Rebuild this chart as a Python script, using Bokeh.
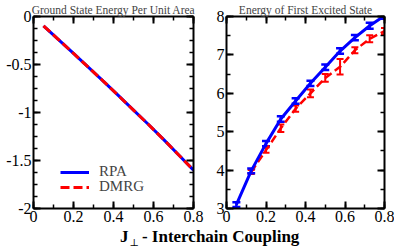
from bokeh.plotting import figure
from bokeh.models import (Range1d, LinearAxis, FixedTicker, Whisker, ColumnDataSource,
                          Legend, LegendItem, TeeHead, Div)
from bokeh.layouts import column, row
from bokeh.embed import file_html
from bokeh.resources import INLINE

# ---------------- data ----------------
jperp = [0.05, 0.125, 0.2, 0.275, 0.35, 0.425, 0.5, 0.575, 0.65, 0.725, 0.8]
ground_rpa = [-0.097, -0.24, -0.385, -0.53, -0.675, -0.825, -0.975, -1.125, -1.28, -1.44, -1.60]
ground_dmrg = [-0.097, -0.24, -0.385, -0.53, -0.675, -0.825, -0.975, -1.125, -1.28, -1.44, -1.60]

excited_rpa = [3.1, 3.98, 4.69, 5.33, 5.8, 6.26, 6.68, 7.1, 7.45, 7.76, 8.02]
excited_rpa_err = [0.06, 0.06, 0.07, 0.07, 0.07, 0.07, 0.07, 0.07, 0.07, 0.08, 0.08]

jperp_dmrg = [0.125, 0.2, 0.275, 0.35, 0.425, 0.5, 0.575, 0.65, 0.725, 0.8]
excited_dmrg = [3.95, 4.52, 5.09, 5.6, 6.0, 6.4, 6.69, 7.12, 7.42, 7.62]
excited_dmrg_err = [0.05, 0.07, 0.1, 0.08, 0.1, 0.1, 0.2, 0.08, 0.09, 0.08]

x_ticks = [0, 0.2, 0.4, 0.6, 0.8]
x_tick_labels = ["0", "0.2", "0.4", "0.6", "0.8"]
left_y_ticks = [-2, -1.5, -1, -0.5, 0]
left_y_tick_labels = ["-2", "-1.5", "-1", "-0.5", "0"]
right_y_ticks = [3, 4, 5, 6, 7, 8]
right_y_tick_labels = ["3", "4", "5", "6", "7", "8"]

FONT = "Liberation Serif"
BLUE = "#0000ff"
RED = "#ff0000"


def style_axis(ax, ticks, minor, labels, show_labels=True):
    ax.ticker = FixedTicker(ticks=ticks, minor_ticks=minor)
    ax.axis_line_width = 2
    ax.axis_line_color = "black"
    ax.major_tick_in = 7
    ax.major_tick_out = 0
    ax.minor_tick_in = 4
    ax.minor_tick_out = 0
    ax.major_tick_line_width = 2
    ax.minor_tick_line_width = 1.5
    ax.major_label_text_font = FONT
    ax.major_label_text_color = "black"
    if show_labels:
        ax.major_label_text_font_size = "16px"
        ax.major_label_standoff = 2
        ax.major_label_overrides = {t: l for t, l in zip(ticks, labels)}
    else:
        ax.major_label_text_font_size = "0px"
        ax.major_label_standoff = 0
        ax.major_label_overrides = {t: "" for t in ticks}


def make_panel(width, title, yr, yticks, ylabels, yminor_step, bl, br, toff):
    p = figure(width=width, height=224, toolbar_location=None, output_backend="svg",
               x_range=Range1d(0, 0.8), y_range=Range1d(*yr),
               x_axis_type=None, y_axis_type=None,
               min_border_left=bl, min_border_right=br, min_border_top=0, min_border_bottom=0)
    p.title.text = title
    p.title.align = "center"
    p.title.text_font = FONT
    p.title.text_font_style = "normal"
    p.title.text_font_size = "11.5px"
    p.title.offset = toff
    p.title.standoff = 2
    p.outline_line_color = None
    p.background_fill_color = "white"
    p.border_fill_color = "white"
    xminor = [round(0.1 * i, 3) for i in range(0, 9)]
    n = int(round((yr[1] - yr[0]) / yminor_step))
    yminor = [round(yr[0] + yminor_step * i, 4) for i in range(n + 1)]
    for loc, show in (("below", True), ("above", False)):
        ax = LinearAxis()
        style_axis(ax, x_ticks, xminor, x_tick_labels, show)
        p.add_layout(ax, loc)
    for loc, show in (("left", True), ("right", False)):
        ax = LinearAxis()
        style_axis(ax, yticks, yminor, ylabels, show)
        p.add_layout(ax, loc)
    return p


# ---------------- left panel ----------------
p1 = make_panel(205, "Ground State Energy Per Unit Area", (-2, 0),
                left_y_ticks, left_y_tick_labels, 0.125, 33, 12, 10)
r_rpa = p1.line(jperp, ground_rpa, line_color=BLUE, line_width=3)
r_dmrg = p1.line(jperp, ground_dmrg, line_color=RED, line_width=3, line_dash="9 4")
for item, ly in ((LegendItem(label="RPA", renderers=[r_rpa]), 28),
                 (LegendItem(label="DMRG", renderers=[r_dmrg]), 13)):
    p1.add_layout(Legend(items=[item], location=(27, ly), border_line_color=None,
                         background_fill_alpha=0, label_text_font=FONT,
                         label_text_font_size="15px", glyph_width=29, glyph_height=12,
                         label_height=12, spacing=0, padding=0, margin=0,
                         label_standoff=10))

# ---------------- right panel ----------------
p2 = make_panel(189, "Energy of First Excited State", (3, 8),
                right_y_ticks, right_y_tick_labels, 0.5, 21, 10, 8)

src_rpa = ColumnDataSource(dict(
    x=jperp, y=excited_rpa,
    lo=[v - e for v, e in zip(excited_rpa, excited_rpa_err)],
    hi=[v + e for v, e in zip(excited_rpa, excited_rpa_err)]))
src_dmrg = ColumnDataSource(dict(
    x=jperp_dmrg, y=excited_dmrg,
    lo=[v - e for v, e in zip(excited_dmrg, excited_dmrg_err)],
    hi=[v + e for v, e in zip(excited_dmrg, excited_dmrg_err)]))

p2.line("x", "y", source=src_dmrg, line_color=RED, line_width=2.5, line_dash="8 4")
p2.add_layout(Whisker(source=src_dmrg, base="x", lower="lo", upper="hi",
                      line_color=RED, line_width=2,
                      lower_head=TeeHead(size=7, line_color=RED, line_width=2),
                      upper_head=TeeHead(size=7, line_color=RED, line_width=2)))
p2.line("x", "y", source=src_rpa, line_color=BLUE, line_width=3)
p2.add_layout(Whisker(source=src_rpa, base="x", lower="lo", upper="hi",
                      line_color=BLUE, line_width=2.5,
                      lower_head=TeeHead(size=8, line_color=BLUE, line_width=2.5),
                      upper_head=TeeHead(size=8, line_color=BLUE, line_width=2.5)))

# ---------------- shared x label ----------------
xlabel = Div(
    text=('<div style="margin-left:115px;font-family:\'Liberation Serif\',serif;'
          'font-weight:bold;font-size:17px;line-height:16px;color:black;white-space:nowrap;">'
          'J<span style="font-family:\'DejaVu Serif\',serif;font-size:10px;font-weight:normal;'
          'position:relative;top:4px;margin-left:1px;margin-right:3px;">⊥</span>'
          '- Interchain Coupling</div>'),
    width=394, height=17)

layout = column(row(p1, p2, spacing=0), xlabel, spacing=0)
open("out.html", "w").write(file_html(layout, INLINE))
